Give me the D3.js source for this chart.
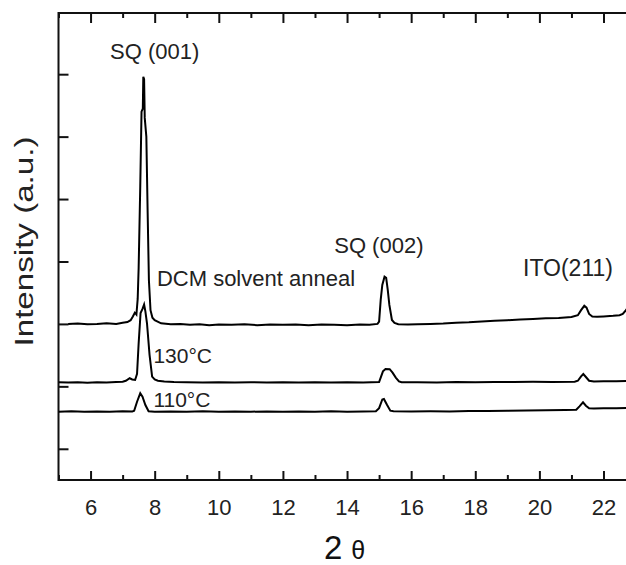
<!DOCTYPE html>
<html>
<head>
<meta charset="utf-8">
<script src="https://cdn.jsdelivr.net/npm/d3@7"></script>
<style>
  html, body { margin: 0; padding: 0; background: #fff; }
  svg { display: block; font-family: "Liberation Sans", Arial, Helvetica, sans-serif; }
</style>
</head>
<body>
<svg id="chart" width="626" height="565"></svg>
<script>
// XRD patterns of SQ films: DCM solvent anneal, 130 °C and 110 °C thermal anneals.
// Each series is [2θ (deg), intensity (a.u., vertically offset for display)].
const dcmAnneal = [
  [5.30,2500],[5.60,2505],[5.90,2495],[6.20,2500],[6.50,2510],[6.80,2500],[7.00,2520],
  [7.15,2530],[7.25,2560],[7.32,2620],[7.38,2680],[7.43,2650],[7.47,2900],[7.50,3400],
  [7.55,4700],[7.59,5900],[7.63,5950],[7.645,6460],[7.67,6420],[7.69,5800],[7.74,5500],
  [7.78,4300],[7.82,3200],[7.87,2720],[7.93,2600],[8.00,2560],[8.20,2510],[8.50,2495],
  [8.80,2500],[9.10,2485],[9.40,2495],[9.70,2480],[10.0,2490],[10.4,2485],[10.8,2495],
  [11.2,2480],[11.6,2490],[12.0,2485],[12.4,2490],[12.8,2480],[13.2,2490],[13.6,2485],
  [14.0,2480],[14.4,2490],[14.7,2485],[14.95,2500],[15.00,2536],[15.05,2884],[15.10,3124],
  [15.17,3257],[15.22,3240],[15.27,3044],[15.32,2804],[15.40,2563],[15.48,2515],[15.60,2495],
  [15.9,2490],[16.2,2495],[16.6,2500],[17.0,2505],[17.4,2520],[17.8,2525],[18.2,2540],
  [18.6,2550],[19.0,2560],[19.4,2570],[19.8,2580],[20.2,2590],[20.6,2595],[21.0,2610],
  [21.2,2640],[21.3,2720],[21.4,2790],[21.47,2760],[21.55,2660],[21.65,2620],[21.8,2615],
  [22.0,2620],[22.3,2630],[22.5,2640],[22.6,2660],[22.7,2720],[22.8,2800]
];
const anneal130 = [
  [5.00,1565],[5.30,1560],[5.60,1565],[5.90,1558],[6.20,1565],[6.50,1560],[6.80,1568],
  [7.00,1575],[7.10,1590],[7.22,1630],[7.30,1610],[7.39,1602],[7.45,1700],[7.50,2190],
  [7.56,2675],[7.62,2740],[7.67,2810],[7.71,2700],[7.76,2510],[7.84,2003],[7.92,1655],
  [8.00,1610],[8.10,1590],[8.30,1578],[8.60,1570],[9.00,1565],[9.50,1560],[10.0,1566],
  [10.5,1560],[11.0,1565],[11.5,1562],[12.0,1566],[12.5,1560],[13.0,1565],[13.5,1562],
  [14.0,1566],[14.5,1562],[15.00,1570],[15.05,1640],[15.12,1740],[15.20,1778],[15.33,1775],
  [15.42,1720],[15.52,1640],[15.62,1580],[15.70,1565],[16.2,1566],[16.8,1562],[17.4,1568],
  [18.0,1565],[18.6,1570],[19.2,1568],[19.8,1572],[20.4,1570],[21.1,1575],[21.2,1590],
  [21.3,1660],[21.37,1698],[21.45,1650],[21.55,1590],[21.7,1578],[22.0,1580],[22.4,1582],
  [22.8,1586]
];
const anneal110 = [
  [5.00,1094],[5.40,1100],[5.80,1092],[6.20,1098],[6.60,1094],[7.00,1100],[7.30,1096],
  [7.36,1110],[7.45,1254],[7.55,1389],[7.62,1335],[7.71,1201],[7.81,1100],[8.00,1094],
  [8.50,1098],[9.00,1094],[9.50,1100],[10.0,1094],[10.5,1098],[11.0,1094],[11.5,1099],
  [12.0,1094],[12.5,1098],[13.0,1094],[13.5,1100],[14.0,1095],[14.5,1098],[14.9,1100],
  [15.00,1150],[15.10,1290],[15.15,1298],[15.25,1200],[15.35,1110],[15.45,1100],[16.0,1096],
  [16.6,1100],[17.2,1098],[17.8,1104],[18.4,1106],[19.0,1110],[19.6,1114],[20.2,1118],
  [20.8,1122],[21.15,1125],[21.25,1180],[21.36,1245],[21.45,1190],[21.55,1150],[21.7,1145],
  [22.0,1148],[22.4,1150],[22.8,1153]
];

const xTicks = [6, 8, 10, 12, 14, 16, 18, 20, 22];
const xMinorTicks = [5, 7, 9, 11, 13, 15, 17, 19, 21, 23];
const yTicks = [500, 1500, 2500, 3500, 4500, 5500, 6500];

// annotation anchors in data units (text start, baseline)
const labels = [
  { text: "SQ (001)", x: 6.61, y: 6740, size: 22 },
  { text: "DCM solvent anneal", x: 8.07, y: 3113, size: 22 },
  { text: "SQ (002)", x: 13.60, y: 3632, size: 22 },
  { text: "ITO(211)", x: 19.49, y: 3268, size: 23 },
  { text: "130°C", x: 7.96, y: 1870, size: 21 },
  { text: "110°C", x: 7.96, y: 1165, size: 21 }
];

const svg = d3.select("#chart");
const plotLeft = 58.5, plotTop = 13, plotBottom = 480;

const x = d3.scaleLinear().domain([5, 23.5]).range([plotLeft, plotLeft + 18.5 * 32.06]);
const y = d3.scaleLinear().domain([0, 7480]).range([plotBottom, plotTop]);

const axisColor = "#111";

// plot frame
svg.append("rect")
  .attr("x", x(5)).attr("y", y(7480))
  .attr("width", x(23.5) - x(5)).attr("height", y(0) - y(7480))
  .attr("fill", "none").attr("stroke", axisColor).attr("stroke-width", 2);

function styleTicks(g) {
  g.select(".domain").remove();
  g.selectAll(".tick line").attr("stroke", axisColor).attr("stroke-width", 2);
}

// bottom axis (ticks pointing inward)
const gB = svg.append("g").attr("transform", `translate(0,${plotBottom})`)
  .call(d3.axisBottom(x).tickValues(xTicks).tickSize(-9).tickPadding(19).tickSizeOuter(0));
styleTicks(gB);
gB.selectAll(".tick text").attr("font-size", 22).attr("fill", "#222")
  .attr("font-family", "'Liberation Sans', Arial, sans-serif");
const gBm = svg.append("g").attr("transform", `translate(0,${plotBottom})`)
  .call(d3.axisBottom(x).tickValues(xMinorTicks).tickSize(-5).tickFormat(""));
styleTicks(gBm);

// top axis mirrors bottom
const gT = svg.append("g").attr("transform", `translate(0,${plotTop})`)
  .call(d3.axisTop(x).tickValues(xTicks).tickSize(-10).tickFormat(""));
styleTicks(gT);
const gTm = svg.append("g").attr("transform", `translate(0,${plotTop})`)
  .call(d3.axisTop(x).tickValues(xMinorTicks).tickSize(-5).tickFormat(""));
styleTicks(gTm);

// left axis, unlabeled intensity ticks
const gL = svg.append("g").attr("transform", `translate(${x(5)},0)`)
  .call(d3.axisLeft(y).tickValues(yTicks).tickSize(-10).tickFormat(""));
styleTicks(gL);

// traces
const line = d3.line().x(d => x(d[0])).y(d => y(d[1]));
svg.append("clipPath").attr("id", "plot-clip").append("rect")
  .attr("x", x(5)).attr("y", plotTop).attr("width", x(23.5) - x(5)).attr("height", plotBottom - plotTop);
const traces = svg.append("g").attr("clip-path", "url(#plot-clip)");
[dcmAnneal, anneal130, anneal110].forEach(series => {
  traces.append("path").datum(series)
    .attr("d", line)
    .attr("fill", "none").attr("stroke", "#000")
    .attr("stroke-width", 2).attr("stroke-linejoin", "miter");
});

// peak / sample annotations
svg.append("g").selectAll("text").data(labels).join("text")
  .attr("x", d => x(d.x)).attr("y", d => y(d.y))
  .attr("font-size", d => d.size).attr("fill", "#222")
  .text(d => d.text);

// axis titles
svg.append("text")
  .attr("transform", "translate(33,241.5) rotate(-90)")
  .attr("text-anchor", "middle").attr("font-size", 25).attr("fill", "#222")
  .attr("textLength", 210).attr("lengthAdjust", "spacingAndGlyphs")
  .text("Intensity (a.u.)");

const xt = svg.append("text").attr("x", 324).attr("y", 559).attr("fill", "#111");
xt.append("tspan").attr("font-size", 33).text("2");
xt.append("tspan").attr("font-size", 25).attr("dx", 9).text("θ");
</script>
</body>
</html>
